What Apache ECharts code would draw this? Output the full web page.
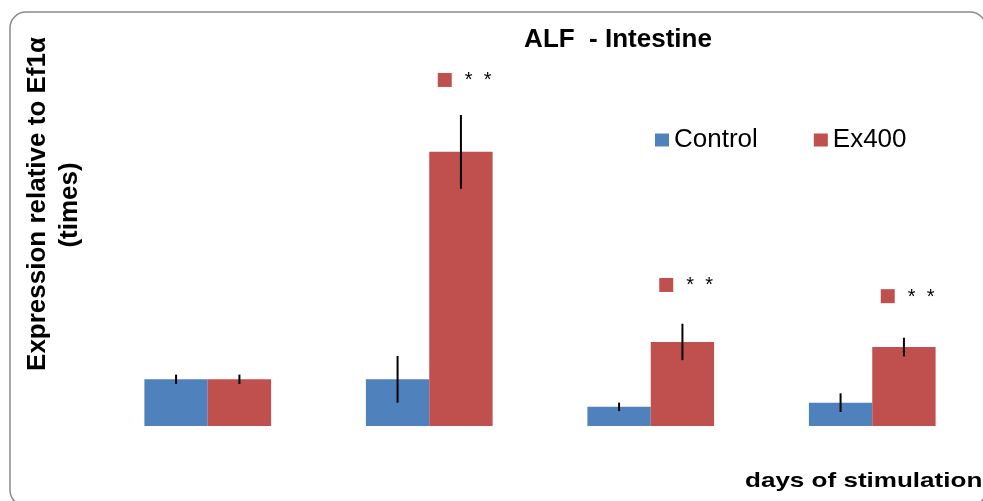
<!DOCTYPE html>
<html>
<head>
<meta charset="utf-8">
<script src="https://cdn.jsdelivr.net/npm/echarts@6/dist/echarts.min.js"></script>
<style>
html,body{margin:0;padding:0;background:#fff;}
#chart{width:983px;height:501px;}
</style>
</head>
<body>
<div id="chart"></div>
<script>
// day groups (labels are not shown in the figure)
var days = ['d1', 'd2', 'd3', 'd4'];

var control = [1.0, 1.0, 0.41, 0.50];
var controlErr = [0.1, 0.5, 0.09, 0.2];
var ex400 = [1.0, 5.87, 1.80, 1.69];
var ex400Err = [0.1, 0.79, 0.39, 0.2];

// height of the "* *" significance markers, null = none
var sigLevel = [null, 7.41, 3.02, 2.78];

var blue = '#4F81BD';
var red = '#C0504D';
var catGap = 0.428;

var errData = [];
for (var i = 0; i < days.length; i++) {
	errData.push([i, control[i] - controlErr[i], control[i] + controlErr[i], -1]);
	errData.push([i, ex400[i] - ex400Err[i], ex400[i] + ex400Err[i], 1]);
}

var sigData = [];
for (var i = 0; i < days.length; i++) {
	if (sigLevel[i] != null) sigData.push([i, sigLevel[i]]);
}

function renderErr(params, api) {
	var idx = api.value(0);
	var side = api.value(3);
	var catW = api.size([1, 0])[0];
	var barW = catW * (1 - catGap) / 2;
	var lo = api.coord([idx, api.value(1)]);
	var hi = api.coord([idx, api.value(2)]);
	var x = lo[0] + side * barW / 2;
	return {
		type: 'line',
		shape: {x1: x, y1: lo[1], x2: x, y2: hi[1]},
		style: {stroke: '#000', lineWidth: 2}
	};
}

var myChart = echarts.init(document.getElementById('chart'));
var option = {
	animation: false,
	grid: {left: 97, right: 0, top: 52.4, bottom: 75},
	legend: {
		data: ['Control', 'Ex400'],
		left: 650,
		top: 122,
		icon: 'rect',
		itemWidth: 14,
		itemHeight: 13,
		itemGap: 56,
		textStyle: {fontSize: 26, color: '#000', fontFamily: '"Liberation Sans", Arial, sans-serif'}
	},
	xAxis: {
		type: 'category',
		data: days,
		axisLine: {show: false},
		axisTick: {show: false},
		axisLabel: {show: false},
		splitLine: {show: false}
	},
	yAxis: {
		type: 'value',
		min: 0,
		max: 8,
		show: false
	},
	series: [
		{
			name: 'Control',
			type: 'bar',
			data: control,
			barGap: '0%',
			barCategoryGap: (catGap * 100) + '%',
			itemStyle: {color: blue}
		},
		{
			name: 'Ex400',
			type: 'bar',
			data: ex400,
			itemStyle: {color: red}
		},
		{
			name: 'err',
			type: 'custom',
			renderItem: renderErr,
			data: errData,
			encode: {x: 0, y: [1, 2]},
			z: 5
		},
		{
			name: 'sig',
			type: 'scatter',
			data: sigData,
			symbol: 'rect',
			symbolSize: 14,
			symbolOffset: [15.5, 0],
			itemStyle: {color: red, opacity: 1},
			label: {
				show: true,
				position: 'right',
				distance: 13,
				offset: [0, 1],
				formatter: '*  *',
				fontSize: 20,
				color: '#000',
				fontFamily: '"Liberation Sans", Arial, sans-serif'
			},
			z: 6
		}
	],
	graphic: [
		{
			type: 'rect',
			shape: {x: 10, y: 12, width: 976, height: 494, r: 16},
			style: {fill: 'none', stroke: '#8a8a8a', lineWidth: 1.5},
			z: -1
		},
		{
			type: 'text',
			x: 618,
			y: 53,
			style: {
				text: 'ALF  - Intestine',
				font: 'bold 26px "Liberation Sans", Arial, sans-serif',
				fill: '#000',
				textAlign: 'center',
				textVerticalAlign: 'bottom'
			}
		},
		{
			type: 'text',
			x: 38,
			y: 204,
			rotation: Math.PI / 2,
			style: {
				text: 'Expression relative to Ef1α',
				font: 'bold 26px "Liberation Sans", Arial, sans-serif',
				fill: '#000',
				textAlign: 'center',
				textVerticalAlign: 'middle'
			}
		},
		{
			type: 'text',
			x: 70,
			y: 205,
			rotation: Math.PI / 2,
			style: {
				text: '(times)',
				font: 'bold 26px "Liberation Sans", Arial, sans-serif',
				fill: '#000',
				textAlign: 'center',
				textVerticalAlign: 'middle'
			}
		},
		{
			type: 'text',
			x: 745,
			y: 492,
			scaleX: 1.24,
			style: {
				text: 'days of stimulation',
				font: 'bold 21px "Liberation Sans", Arial, sans-serif',
				fill: '#000',
				textAlign: 'left',
				textVerticalAlign: 'bottom'
			}
		}
	]
};
myChart.setOption(option);
</script>
</body>
</html>
